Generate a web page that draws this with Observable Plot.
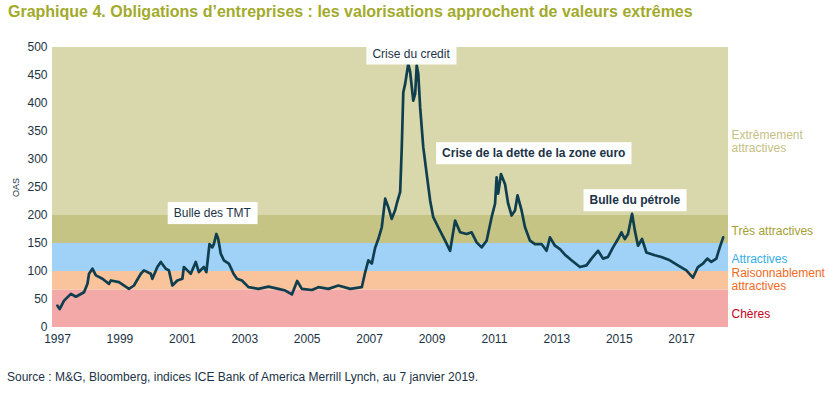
<!DOCTYPE html>
<html><head><meta charset="utf-8">
<script src="https://cdn.jsdelivr.net/npm/d3@7"></script>
<script src="https://cdn.jsdelivr.net/npm/@observablehq/plot@0.6"></script>
<style>
body{margin:0;background:#fff;font-family:"Liberation Sans",Arial,sans-serif;}
#title{height:30px;box-sizing:border-box;padding:3px 0 0 8px;font-weight:bold;font-size:16px;color:#a2aa2c;white-space:nowrap;}
#chart svg{display:block;}
#source{padding:21px 0 0 7px;font-size:12px;color:#1b3346;white-space:nowrap;}
</style></head><body>
<div id="title">Graphique 4. Obligations d’entreprises : les valorisations approchent de valeurs extrêmes</div>
<div id="chart"></div>
<div id="source">Source : M&amp;G, Bloomberg, indices ICE Bank of America Merrill Lynch, au 7 janvier 2019.</div>
<script>
const years = [1997.00,1997.07,1997.21,1997.43,1997.59,1997.85,1997.96,1998.01,1998.12,1998.23,1998.44,1998.65,1998.71,1998.97,1999.29,1999.45,1999.67,1999.77,1999.99,2000.04,2000.20,2000.31,2000.47,2000.57,2000.68,2000.84,2001.00,2001.05,2001.16,2001.27,2001.43,2001.53,2001.69,2001.77,2001.80,2001.87,2001.96,2002.01,2002.09,2002.15,2002.23,2002.33,2002.49,2002.56,2002.64,2002.75,2002.91,2003.12,2003.44,2003.76,2004.08,2004.30,2004.51,2004.68,2004.83,2005.15,2005.36,2005.68,2006.00,2006.38,2006.75,2006.86,2006.96,2007.07,2007.18,2007.28,2007.39,2007.50,2007.60,2007.71,2007.82,2007.87,2007.98,2008.03,2008.08,2008.14,2008.24,2008.30,2008.40,2008.46,2008.51,2008.56,2008.62,2008.72,2008.83,2008.94,2009.04,2009.20,2009.42,2009.58,2009.74,2009.90,2010.11,2010.27,2010.43,2010.59,2010.75,2010.91,2011.02,2011.07,2011.12,2011.21,2011.34,2011.44,2011.55,2011.66,2011.74,2011.87,2011.98,2012.14,2012.30,2012.51,2012.67,2012.78,2012.94,2013.10,2013.26,2013.47,2013.74,2013.95,2014.11,2014.32,2014.48,2014.64,2014.80,2014.96,2015.07,2015.18,2015.28,2015.41,2015.50,2015.60,2015.73,2015.87,2016.14,2016.35,2016.62,2016.88,2017.15,2017.36,2017.52,2017.68,2017.82,2017.95,2018.11,2018.22,2018.33];
const oas = [39,33,48,60,55,63,78,96,105,93,87,78,84,81,69,75,96,102,96,87,108,117,105,102,75,84,87,108,102,96,117,99,108,99,114,149,143,149,167,158,132,120,114,106,96,87,84,72,69,73,69,66,59,83,69,67,72,69,75,69,72,99,120,114,143,158,179,230,215,194,210,221,242,320,420,435,471,456,405,417,468,453,393,322,274,227,197,179,155,137,191,170,167,170,152,143,155,197,221,268,239,274,256,221,200,209,236,209,179,155,149,149,137,161,146,140,130,120,108,111,123,137,123,126,143,158,170,158,167,203,173,146,158,134,129,126,120,111,102,89,108,114,123,117,123,143,161];

const bandLow = [0, 67, 100, 150, 200];
const bandHigh = [67, 100, 150, 200, 500];
const bandLabels = ["Chères", "Raisonnablement\nattractives", "Attractives", "Très attractives", "Extrêmement\nattractives"];
const bandLabelY = [25, 86, 123, 173, 332];
const bandColors = ["#f4a9a9", "#f9c49b", "#a0d1f6", "#c5c485", "#d9d8ad"];
const bandTextColors = ["#c4001b", "#f06a1e", "#35aee8", "#a3a02f", "#c6c084"];

const annoText = ["Bulle des TMT", "Crise du credit", "Crise de la dette de la zone euro", "Bulle du pétrole"];
const annoX = [2001.96, 2008.33, 2012.26, 2015.5];
const annoY = [204, 489, 311, 227];
const annoBold = [false, false, true, true];

const xTicks = [1997, 1999, 2001, 2003, 2005, 2007, 2009, 2011, 2013, 2015, 2017];
const yTicks = [0, 50, 100, 150, 200, 250, 300, 350, 400, 450, 500];
const xDomain = [1996.84, 2018.5];

const bands = bandLow.map((lo, i) => ({lo, hi: bandHigh[i], label: bandLabels[i], ly: bandLabelY[i], fill: bandColors[i], tc: bandTextColors[i]}));
const series = years.map((x, i) => ({x, y: oas[i]}));
const annos = annoText.map((t, i) => ({t, x: annoX[i], y: annoY[i], bold: annoBold[i]}));

const chart = Plot.plot({
  width: 825, height: 319,
  marginTop: 17, marginBottom: 22, marginLeft: 52, marginRight: 97,
  style: {fontFamily: "Liberation Sans, Arial, sans-serif", fontSize: "12px", color: "#1b3346", background: "white", overflow: "visible"},
  x: {domain: xDomain, ticks: xTicks, tickFormat: d3.format("d"), tickSize: 0, tickPadding: 7, label: null},
  y: {domain: [0, 500], ticks: yTicks, tickSize: 0, tickPadding: 5, label: "OAS", labelAnchor: "center", labelOffset: 40},
  color: {type: "identity"},
  marks: [
    Plot.rect(bands, {y1: "lo", y2: "hi", fill: "fill"}),
    Plot.line(series, {x: "x", y: "y", stroke: "#0f3e4f", strokeWidth: 2.7, strokeLinejoin: "round"}),
    Plot.text(bands, {frameAnchor: "right", y: "ly", text: "label", fill: "tc", textAnchor: "start", dx: 3, lineHeight: 1.1, fontSize: 12}),
    Plot.text(annos.filter(d => !d.bold), {x: "x", y: "y", text: "t", fill: "#1b3346", fontSize: 12}),
    Plot.text(annos.filter(d => d.bold), {x: "x", y: "y", text: "t", fill: "#1b3346", fontSize: 12, fontWeight: "bold"}),
    Plot.axisY({ticks: yTicks, tickSize: 0, tickPadding: 5, label: "OAS", labelAnchor: "center", labelOffset: 40, labelArrow: false, fontSize: 12}),
  ]
});
document.getElementById("chart").append(chart);

// smaller y-axis title, no arrow
const yl = chart.querySelector('[aria-label="y-axis label"]');
if (yl) {
  yl.setAttribute("font-size", 9);
  yl.querySelectorAll("text").forEach(t => { t.textContent = "OAS"; t.setAttribute("font-size", 9); });
}

// white boxes behind annotation labels
const ns = "http://www.w3.org/2000/svg";
chart.querySelectorAll("text").forEach(t => {
  if (!annoText.includes(t.textContent)) return;
  const b = t.getBBox();
  const r = document.createElementNS(ns, "rect");
  r.setAttribute("x", b.x - 6);
  r.setAttribute("y", b.y - 4);
  r.setAttribute("width", b.width + 12);
  r.setAttribute("height", b.height + 8);
  r.setAttribute("fill", "white");
  r.setAttribute("stroke", "none");
  const tr = t.getAttribute("transform");
  if (tr) r.setAttribute("transform", tr);
  t.parentNode.insertBefore(r, t);
});
</script>
</body></html>
